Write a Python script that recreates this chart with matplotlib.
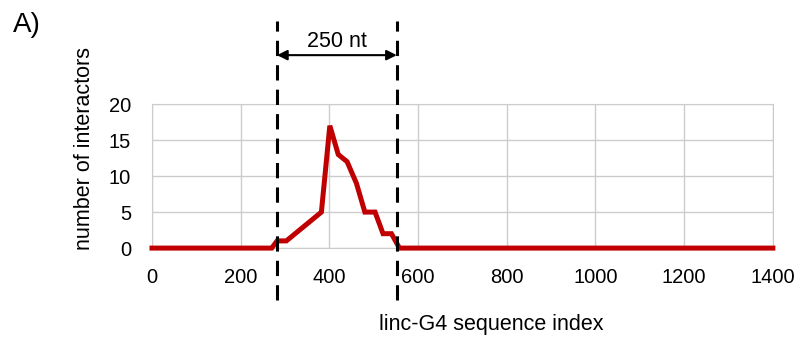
import numpy as np
import matplotlib.pyplot as plt

plt.rcParams['font.family'] = ['Liberation Sans', 'DejaVu Sans']

# sequence index / number of interactors
seq_index = [0, 270, 282, 303, 382, 401, 420, 440, 461, 480, 503, 521, 540, 558, 1400]
interactors = [0, 0, 1, 1, 5, 17, 13, 12, 9, 5, 5, 2, 2, 0, 0]

# window boundaries
window = [282, 552]
window_label = "250 nt"

fig = plt.figure(figsize=(7.97, 3.38), dpi=100)
ax = fig.add_axes([0.1907, 0.266, 0.779, 0.426])

ax.plot(seq_index, interactors, color='#C00000', lw=3.6, solid_joinstyle='miter',
        clip_on=False, zorder=3)

ax.set_xlim(0, 1400)
ax.set_ylim(0, 20)
ax.set_xticks(np.arange(0, 1401, 200))
ax.set_yticks(np.arange(0, 21, 5))
ax.grid(True, color='#cccccc', lw=1)
for s in ax.spines.values():
    s.set_color('#cccccc')
ax.tick_params(length=0, labelsize=14.5)
ax.tick_params(axis='x', pad=14)
ax.tick_params(axis='y', pad=15)

for w in window:
    ax.axvline(w, ymin=-0.36, ymax=1.58, color='black', lw=2.2,
               dashes=(5, 3), clip_on=False, zorder=4)

ax.annotate('', xy=(window[0], 26.8), xytext=(window[1], 26.8),
            arrowprops=dict(arrowstyle='<|-|>', color='black', lw=1.5,
                            shrinkA=0, shrinkB=0, mutation_scale=15),
            annotation_clip=False)
ax.text(sum(window) / 2, 28.7, window_label, ha='center', va='center', fontsize=15.5)

ax.set_xlabel('linc-G4 sequence index', fontsize=15.5)
ax.xaxis.set_label_coords(0.546, -0.46)
fig.text(84 / 797, 1 - 148 / 338, 'number of interactors', rotation=90,
         ha='center', va='center', fontsize=15.5)

fig.text(0.016, 0.925, 'A)', fontsize=20, ha='left', va='center')

fig.savefig('out.png', dpi=100)
